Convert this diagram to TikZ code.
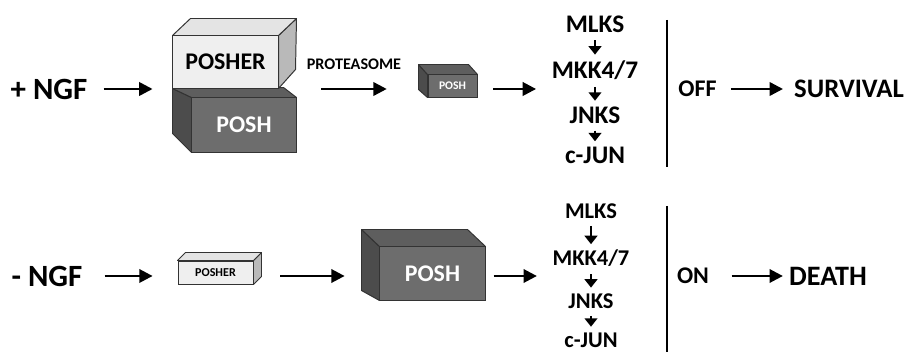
\documentclass[tikz,border=0pt]{standalone}
\usepackage{fontspec}
\setmainfont{Carlito}
\usepackage{xcolor}
\usepackage{tikz}
\usetikzlibrary{arrows.meta,positioning,calc}

\definecolor{posherfront}{HTML}{EFEFEF}
\definecolor{poshertop}{HTML}{E4E4E4}
\definecolor{posherside}{HTML}{B9B9B9}
\definecolor{poshfront}{HTML}{6D6D6D}
\definecolor{poshtop}{HTML}{5E5E5E}
\definecolor{poshside}{HTML}{4C4C4C}

\tikzset{
	lbl/.style={font=\bfseries\fontsize{#1}{#1}\selectfont, inner sep=0pt},
	frontbox/.style={draw=black!80, line width=0.7pt},
	face/.style={draw=black!80, line width=0.7pt, line join=round},
	arr/.style={-{Triangle[length=9.5pt,width=9.5pt]}, line width=1.8pt},
	sarr/.style={-{Triangle[length=6pt,width=9pt]}, line width=1.6pt, shorten <=5pt, shorten >=4pt},
	bar/.style={line width=2.1pt}
}

\begin{document}
\begin{tikzpicture}[x=0.025cm, y=-0.025cm]
		\useasboundingbox (0,0) rectangle (908,352);

		% with NGF
		\node[lbl=22] (ngf1) at (49,89) {+ NGF};

		\node[frontbox, fill=poshfront, minimum width=2.6cm, minimum height=1.35cm, text=white, lbl=17] (posh1) at (244,125) {POSH};
		\draw[face, fill=poshside] (posh1.north west) -- ++(-19,-9) -- ($(posh1.south west)+(-19,-19)$) -- (posh1.south west) -- cycle;
		\draw[face, fill=poshtop] (posh1.north west) -- ++(-19,-9) -- ($(posh1.north east)+(-13,-10)$) -- (posh1.north east) -- cycle;

		\node[frontbox, fill=posherfront, minimum width=2.625cm, minimum height=1.3cm, lbl=17] (posher1) at (225.5,62) {POSHER};
		\draw[face, fill=posherside] (posher1.north east) -- ++(18,-17) -- ($(posher1.south east)+(17,-19)$) -- (posher1.south east) -- cycle;
		\draw[face, fill=poshertop] (posher1.north west) -- ++(18,-17) -- ($(posher1.north east)+(18,-17)$) -- (posher1.north east) -- cycle;

		\node[lbl=11.5] (prot) at (354,64) {PROTEASOME};

		\node[frontbox, fill=poshfront, minimum width=1.225cm, minimum height=0.55cm, text=white, lbl=8.3] (posh2) at (452.5,86) {POSH};
		\draw[face, fill=poshside] (posh2.north west) -- ++(-9,-10) -- ($(posh2.south west)+(-9,-8)$) -- (posh2.south west) -- cycle;
		\draw[face, fill=poshtop] (posh2.north west) -- ++(-9,-10) -- ($(posh2.north east)+(-9,-10)$) -- (posh2.north east) -- cycle;

		\node[lbl=18] (mlks1) at (595,24.5) {MLKS};
		\node[lbl=18] (mkk1) at (595,70) {MKK4/7};
		\node[lbl=18] (jnks1) at (595,115) {JNKS};
		\node[lbl=18] (cjun1) at (595,155.5) {c-JUN};
		\draw[sarr] (mlks1) -- (mkk1);
		\draw[sarr] (mkk1) -- (jnks1);
		\draw[sarr] (jnks1) -- (cjun1);

		\draw[bar] (667,20) -- (667,167);
		\node[lbl=17] (off1) at (697.5,89) {OFF};
		\node[lbl=19] (surv1) at (849,89) {SURVIVAL};

		\draw[arr, shorten <=11.3pt, shorten >=14.2pt] (ngf1.east) -- (ngf1.east -| posher1.west);
		\draw[arr, shorten <=17.7pt, shorten >=29pt] (ngf1.east -| posh1.east) -- (ngf1.east -| posh2.west);
		\draw[arr, shorten <=11.3pt, shorten >=11pt] (ngf1.east -| posh2.east) -- (ngf1.east -| mkk1.west);
		\draw[arr, shorten <=10pt, shorten >=7.8pt] (off1) -- (surv1);

		% without NGF
		\node[lbl=22] (ngf2) at (47,276) {- NGF};

		\node[frontbox, fill=posherfront, minimum width=1.875cm, minimum height=0.575cm, lbl=8.6] (posher2) at (215.5,272.5) {POSHER};
		\draw[face, fill=posherside] (posher2.north east) -- ++(8,-8) -- ($(posher2.south east)+(8,-8)$) -- (posher2.south east) -- cycle;
		\draw[face, fill=poshertop] (posher2.north west) -- ++(8,-8) -- ($(posher2.north east)+(8,-8)$) -- (posher2.north east) -- cycle;

		\node[frontbox, fill=poshfront, minimum width=2.625cm, minimum height=1.325cm, text=white, lbl=17] (posh3) at (432.5,273.5) {POSH};
		\draw[face, fill=poshside] (posh3.north west) -- ++(-18,-17) -- ($(posh3.south west)+(-18,-10)$) -- (posh3.south west) -- cycle;
		\draw[face, fill=poshtop] (posh3.north west) -- ++(-18,-17) -- ($(posh3.north east)+(-18,-17)$) -- (posh3.north east) -- cycle;

		\node[lbl=16] (mlks2) at (591,211) {MLKS};
		\node[lbl=16] (mkk2) at (591,258.5) {MKK4/7};
		\node[lbl=16] (jnks2) at (591,301) {JNKS};
		\node[lbl=16] (cjun2) at (591,340) {c-JUN};
		\draw[sarr] (mlks2) -- (mkk2);
		\draw[sarr] (mkk2) -- (jnks2);
		\draw[sarr] (jnks2) -- (cjun2);

		\draw[bar] (667,206) -- (667,352);
		\node[lbl=17] (on2) at (693,276) {ON};
		\node[lbl=20] (death2) at (828,276) {DEATH};

		\draw[arr, shorten <=15.6pt, shorten >=17.7pt] (ngf2.east) -- (ngf2.east -| posher2.west);
		\draw[arr, shorten <=19.1pt, shorten >=24.8pt] (ngf2.east -| posher2.east) -- (ngf2.east -| posh3.west);
		\draw[arr, shorten <=5.7pt, shorten >=11pt] (ngf2.east -| posh3.east) -- (ngf2.east -| mkk2.west);
		\draw[arr, shorten <=16pt, shorten >=4.3pt] (on2) -- (death2);
	\end{tikzpicture}
\end{document}
